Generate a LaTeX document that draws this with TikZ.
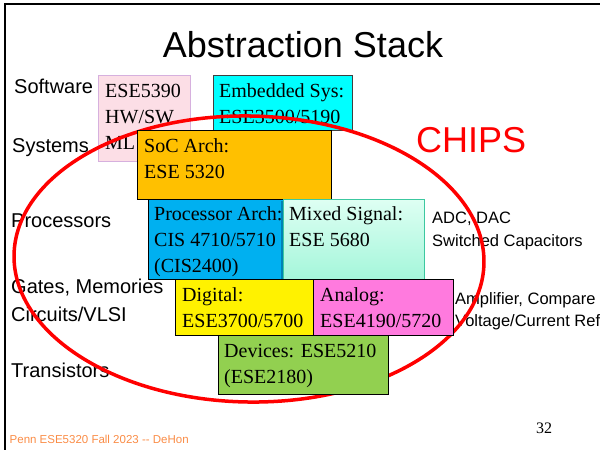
\documentclass[tikz,border=0pt]{standalone}
\usepackage{fontspec}
\setmainfont{Liberation Serif}
\setsansfont{Liberation Sans}
\definecolor{pinkfill}{RGB}{252,222,230}
\definecolor{pinkline}{RGB}{214,176,222}
\definecolor{embcyan}{RGB}{0,255,255}
\definecolor{socorange}{RGB}{255,192,0}
\definecolor{procblue}{RGB}{0,176,240}
\definecolor{minttop}{RGB}{222,255,243}
\definecolor{mintbot}{RGB}{164,246,218}
\definecolor{mintline}{RGB}{60,200,160}
\definecolor{analogpink}{RGB}{255,122,222}
\definecolor{devgreen}{RGB}{146,208,80}
\definecolor{footorange}{RGB}{250,140,70}
\begin{document}
\begin{tikzpicture}[x=1pt,y=-1pt,
  course/.style={draw=black, line width=0.8pt, anchor=north west, inner sep=0pt},
  % anchored at the baseline of the last line of the course text
  coursetext/.style={anchor=base west, inner sep=0pt, align=left,
    font=\fontsize{20}{26}\selectfont},
  layer/.style={anchor=base west, inner sep=0pt, font=\sffamily\fontsize{20}{24}\selectfont},
  note/.style={anchor=base west, inner sep=0pt, font=\sffamily\fontsize{16.5}{20}\selectfont}]
\useasboundingbox (0,0) rectangle (600,450);

% slide frame (top and left edges)
\draw[line width=2pt] (600,3.5) -- (4.5,3.5) -- (4.5,451);

% title
\node[anchor=base, inner sep=0pt, font=\sffamily\fontsize{36}{40}\selectfont] (title) at (303,57) {Abstraction Stack};

% abstraction layers
\node[layer] (sw)    at (14,93)  {Software};
\node[layer] (sys)   at (12,152) {Systems};
\node[layer] (proc)  at (11,227) {Processors};
\node[layer] (gates) at (11,293) {Gates, Memories};
\node[layer] (circ)  at (11,321) {Circuits/VLSI};
\node[layer] (trans) at (11,377) {Transistors};

% side notes
\node[note] (adc)  at (432,223) {ADC, DAC};
\node[note] (swc)  at (432,246) {Switched Capacitors};
\node[note] (amp)  at (455,304) {Amplifier, Compare};
\node[note] (vref) at (455,326) {Voltage/Current Ref};

% courses below the chip outline
\node[course, draw=pinkline, fill=pinkfill, minimum width=92pt, minimum height=86pt] (ml) at (98,75) {};
\node[coursetext] (mlt) at (105,149) {ESE5390\\HW/SW\\ML};
\node[course, draw=black!75, fill=embcyan, minimum width=139pt, minimum height=55pt] (emb) at (213,75) {};
\node[coursetext] (embt) at (219,123) {Embedded Sys:\\ESE3500/5190};

% chip outline
\draw[red, line width=3.5pt, rotate around={-1:(249,259)}] (249,259) ellipse [x radius=235pt, y radius=143pt];
\node[anchor=base west, inner sep=0pt, text=red, font=\sffamily\fontsize{36}{40}\selectfont] (chips) at (416,152) {CHIPS};

% courses on the chip
\node[course, fill=socorange, minimum width=194pt, minimum height=69pt] (soc) at (137,130) {};
\node[coursetext] (soct) at (144,178) {SoC Arch:\\ESE 5320};

\node[course, fill=procblue, minimum width=136pt, minimum height=80pt] (parch) at (148,199) {};
\node[coursetext] (parcht) at (154,272) {Processor Arch:\\CIS 4710/5710\\(CIS2400)};

\fill[black, opacity=0.25] (281,201) rectangle (422,281);
\node[course, draw=mintline, top color=minttop, bottom color=mintbot, minimum width=141pt, minimum height=80pt] (mixed) at (283,199) {};
\node[coursetext] (mixedt) at (289,246) {Mixed Signal:\\ESE 5680};

\node[course, fill=yellow, minimum width=138pt, minimum height=56pt] (dig) at (175,279) {};
\node[coursetext] (digt) at (182,327) {Digital:\\ESE3700/5700};

\node[course, fill=analogpink, minimum width=140pt, minimum height=56pt] (ana) at (313,279) {};
\node[coursetext] (anat) at (320,327) {Analog:\\ESE4190/5720};

\node[course, fill=devgreen, minimum width=170pt, minimum height=59pt] (dev) at (218,335) {};
\node[coursetext] (devt) at (224,383) {Devices: ESE5210\\(ESE2180)};

% footer and page number
\node[anchor=base west, inner sep=0pt, font=\fontsize{16}{18}\selectfont] (page) at (536,433) {32};
\node[anchor=base west, inner sep=0pt, text=footorange, font=\sffamily\fontsize{11.5}{13}\selectfont] (foot) at (9.5,443) {Penn ESE5320 Fall 2023 -{}- DeHon};
\end{tikzpicture}
\end{document}
